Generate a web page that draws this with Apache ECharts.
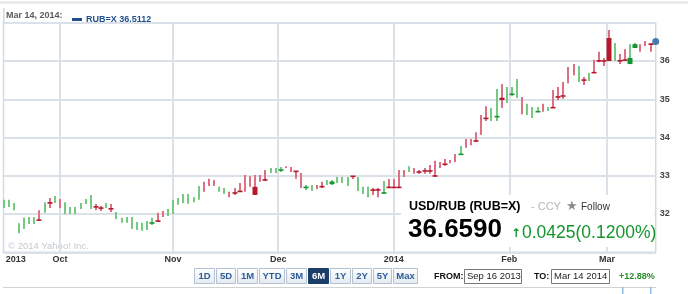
<!DOCTYPE html>
<html>
<head>
<meta charset="utf-8">
<script src="https://cdn.jsdelivr.net/npm/echarts@6/dist/echarts.min.js"></script>
<style>
  html, body { margin: 0; padding: 0; background: #fff; }
  #chart { width: 688px; height: 294px; }
</style>
</head>
<body>
<div id="chart"></div>
<script>
// RUB=X daily candles, one slot per trading day from Sep 16 2013 (slot 0)
const opens = [
  32.16, 32.18, 32.10, 31.50, 31.61, 31.74, 31.74, 31.845, 32.03, 32.295,
  32.29, 32.39, 32.00, 32.00, 32.00, 32.13, 32.26, 32.13, 32.19, 32.16,
  32.16, 32.14, 31.87, 31.77, 31.77, 31.61, 31.58, 31.56, 31.58, 31.76,
  31.82, 32.08, 31.95, 32.00, 32.24, 32.29, 32.27, 32.31, 32.37, 32.84,
  32.92, 32.89, 32.58, 32.52, 32.58, 32.555, 32.595, 33.02, 32.99, 32.71,
  33.02, 32.895, 33.07, 33.07, 33.145, 33.25, 33.23, 33.12, 33.07, 32.69,
  32.60, 32.76, 32.72, 32.76, 32.78, 32.81, 32.81, 32.73, 32.99, 32.60,
  32.52, 32.44, 32.63, 32.635, 32.545, 32.70, 32.70, 32.70, 33.15, 33.10,
  33.20, 33.10, 33.13, 33.13, 33.00, 33.36, 33.305, 33.41, 33.57, 33.555,
  33.96, 33.96, 33.915, 34.59, 34.505, 34.43, 34.54, 35.04, 34.90, 35.125,
  35.03, 35.06, 34.59, 34.51, 34.67, 34.88, 34.69, 34.785, 35.065, 35.09,
  35.84, 35.92, 35.45, 35.505, 35.48, 35.70, 36.01, 36.005, 36.60, 36.00,
  36.01, 36.03, 35.92, 36.34, 36.44, 36.52, 36.445
];
const closes = [
  32.37, 32.37, 32.29, 31.76, 31.90, 31.92, 31.92, 31.835, 32.31, 32.285,
  32.47, 32.16, 32.31, 32.18, 32.18, 32.29, 32.39, 32.50, 32.18, 32.15,
  32.29, 32.13, 32.05, 31.90, 31.92, 31.92, 31.79, 31.77, 31.82, 31.77,
  31.81, 31.92, 32.13, 32.37, 32.42, 32.52, 32.52, 32.44, 32.73, 32.58,
  32.73, 32.73, 32.71, 32.68, 32.44, 32.545, 32.585, 32.58, 32.71, 32.50,
  32.84, 32.885, 33.20, 33.20, 33.155, 33.20, 33.10, 33.11, 32.68, 32.70,
  32.76, 32.65, 32.71, 32.89, 32.85, 32.97, 32.97, 32.97, 32.98, 32.97,
  32.71, 32.71, 32.62, 32.625, 32.555, 32.69, 32.69, 32.69, 32.97, 33.25,
  33.05, 33.09, 33.12, 33.12, 32.99, 33.20, 33.295, 33.33, 33.36, 33.565,
  33.73, 33.80, 33.905, 34.07, 34.495, 34.77, 34.55, 34.98, 35.32, 35.135,
  35.53, 34.61, 34.88, 34.80, 34.68, 34.67, 34.80, 34.775, 35.055, 35.08,
  35.42, 35.63, 35.87, 35.495, 35.69, 35.69, 36.00, 35.995, 36.00, 36.47,
  36.00, 36.02, 36.08, 36.44, 36.24, 36.39, 36.435
];
const lows = [
  32.16, 32.18, 32.10, 31.50, 31.61, 31.74, 31.74, 31.82, 32.03, 32.16,
  32.29, 32.16, 32.00, 32.00, 32.00, 32.13, 32.26, 32.13, 32.10, 32.08,
  32.16, 32.05, 31.87, 31.77, 31.77, 31.61, 31.58, 31.56, 31.58, 31.71,
  31.79, 31.92, 31.95, 32.00, 32.24, 32.29, 32.27, 32.31, 32.37, 32.58,
  32.73, 32.73, 32.58, 32.52, 32.44, 32.50, 32.575, 32.58, 32.71, 32.50,
  32.84, 32.86, 33.07, 33.07, 33.10, 33.20, 33.10, 32.92, 32.68, 32.63,
  32.60, 32.65, 32.68, 32.76, 32.76, 32.81, 32.81, 32.73, 32.915, 32.60,
  32.52, 32.44, 32.50, 32.44, 32.52, 32.68, 32.68, 32.68, 32.97, 33.10,
  33.05, 33.05, 33.05, 33.05, 32.97, 33.20, 33.26, 33.33, 33.36, 33.54,
  33.73, 33.80, 33.88, 34.07, 34.43, 34.43, 34.43, 34.77, 34.90, 35.08,
  35.03, 34.61, 34.59, 34.51, 34.67, 34.67, 34.69, 34.77, 34.98, 35.01,
  35.42, 35.63, 35.45, 35.37, 35.48, 35.69, 35.97, 35.87, 36.00, 36.00,
  35.92, 36.00, 35.92, 36.34, 36.24, 36.39, 36.24
];
const highs = [
  32.37, 32.37, 32.29, 31.76, 31.90, 31.92, 31.92, 32.10, 32.31, 32.42,
  32.47, 32.39, 32.31, 32.18, 32.18, 32.29, 32.39, 32.50, 32.26, 32.21,
  32.29, 32.26, 32.05, 31.90, 31.92, 31.92, 31.79, 31.77, 31.82, 31.90,
  32.03, 32.08, 32.13, 32.37, 32.42, 32.52, 32.52, 32.44, 32.73, 32.84,
  32.92, 32.89, 32.71, 32.68, 32.58, 32.68, 32.81, 33.02, 32.99, 33.02,
  33.02, 33.15, 33.20, 33.20, 33.23, 33.25, 33.23, 33.12, 33.07, 32.76,
  32.76, 32.76, 32.84, 32.89, 32.89, 32.97, 32.97, 32.97, 32.99, 32.97,
  32.71, 32.71, 32.68, 32.68, 32.86, 32.915, 32.915, 33.15, 33.15, 33.25,
  33.20, 33.15, 33.20, 33.28, 33.39, 33.36, 33.44, 33.41, 33.57, 33.78,
  33.96, 33.96, 34.14, 34.59, 34.82, 34.77, 35.27, 35.40, 35.32, 35.32,
  35.53, 35.06, 34.88, 34.80, 34.80, 34.88, 34.80, 35.24, 35.32, 35.45,
  35.84, 35.92, 35.87, 35.58, 35.69, 36.03, 36.24, 36.08, 36.81, 36.47,
  36.18, 36.31, 36.44, 36.47, 36.44, 36.52, 36.47
];
// Mar 14 2014 quote, shown as a dot on the last slot
const lastIndex = 127;
const lastClose = 36.5112;

const xLabels = ['2013', 'Oct', 'Nov', 'Dec', '2014', 'Feb', 'Mar'];
const xLabelSlots = [2.4, 11, 33, 53.5, 76, 98.5, 117.5];
const monthLines = [11, 33, 53.5, 76, 98.5, 117.5];

const ranges = ['1D', '5D', '1M', 'YTD', '3M', '6M', '1Y', '2Y', '5Y', 'Max'];
const activeRange = '6M';

const FONT = 'Liberation Sans, Arial, sans-serif';
const RED = '#de7083', RED_DARK = '#b3182c';
const GREEN = '#74ca81', GREEN_DARK = '#13952f';
const GRID = '#dbe1e8';

const candles = opens.map((o, i) => [i, o, closes[i], lows[i], highs[i]]);

function drawCandle(params, api) {
  const i = api.value(0);
  const o = api.value(1), c = api.value(2), lo = api.value(3), hi = api.value(4);
  const up = c >= o;
  const top = api.coord([i, hi]);
  const bot = api.coord([i, lo]);
  const x = Math.round(top[0]);
  const children = [{
    type: 'rect',
    shape: { x: x - 1, y: top[1], width: 2, height: Math.max(bot[1] - top[1], 1) },
    style: { fill: up ? GREEN : RED }
  }];
  // body only shows when the bar has a wick beyond it
  const hasWick = hi - Math.max(o, c) > 0.004 || Math.min(o, c) - lo > 0.004;
  if (hasWick) {
    const yo = api.coord([i, o])[1], yc = api.coord([i, c])[1];
    const h = Math.max(Math.abs(yo - yc), 1.6);
    children.push({
      type: 'rect',
      shape: { x: x - 2.5, y: (yo + yc) / 2 - h / 2, width: 5, height: h },
      style: { fill: up ? GREEN_DARK : RED_DARK }
    });
  }
  return { type: 'group', children };
}

// range buttons along the bottom
const btnWidths = [21, 20, 21, 26, 21, 21, 21, 20, 19, 25];
const buttons = [];
let bx = 194;
ranges.forEach((r, k) => {
  const on = r === activeRange;
  buttons.push({
    type: 'rect', z: 100,
    shape: { x: bx + 0.5, y: 268.5, width: btnWidths[k] - 1, height: 15 },
    style: on ? { fill: '#1d3d69', stroke: '#1d3d69' } : {
      fill: new echarts.graphic.LinearGradient(0, 0, 0, 1, [
        { offset: 0, color: '#ffffff' }, { offset: 1, color: '#e2e9f1' }
      ]),
      stroke: '#b3c2d3', lineWidth: 1
    }
  });
  buttons.push({
    type: 'text', z: 101,
    x: bx + btnWidths[k] / 2, y: 276.5,
    style: {
      text: r, align: 'center', verticalAlign: 'middle',
      font: 'bold 9.5px ' + FONT, fill: on ? '#ffffff' : '#2e5c97'
    }
  });
  bx += btnWidths[k] + 1;
});

const chart = echarts.init(document.getElementById('chart'));
chart.setOption({
  animation: false,
  backgroundColor: '#fff',
  grid: {
    left: 3.5, right: 32.3, top: 22.75, bottom: 41.75,
    show: true, borderColor: '#d3d9e0', borderWidth: 1.5
  },
  legend: {
    data: [{ name: 'RUB=X', icon: 'rect' }],
    left: 67, top: 10,
    itemWidth: 10, itemHeight: 3, itemGap: 4,
    selectedMode: false,
    formatter: (name) => name + ' ' + lastClose.toFixed(4),
    textStyle: { color: '#1f4f8f', fontWeight: 'bold', fontSize: 9, fontFamily: FONT, padding: [0, 0, 0, -1] }
  },
  xAxis: {
    type: 'value', min: 0, max: lastIndex,
    axisLine: { show: false },
    axisTick: { show: false, customValues: monthLines },
    splitLine: { show: true, lineStyle: { color: GRID, width: 2 } },
    axisLabel: {
      customValues: xLabelSlots,
      formatter: (v, idx) => {
        const k = xLabelSlots.indexOf(v);
        return xLabels[k >= 0 ? k : idx];
      },
      margin: 3, color: '#333', fontWeight: 'bold', fontSize: 9, fontFamily: FONT
    }
  },
  yAxis: {
    type: 'value', position: 'right', min: 31, max: 37, interval: 1,
    axisLine: { show: false },
    axisTick: { show: false },
    splitLine: { lineStyle: { color: GRID, width: 2 } },
    axisLabel: {
      showMinLabel: false, showMaxLabel: false,
      margin: 4, color: '#444', fontWeight: 'bold', fontSize: 9, fontFamily: FONT
    }
  },
  series: [
    {
      type: 'custom', name: 'RUB=X',
      itemStyle: { color: '#1f4e8c' },
      data: candles,
      encode: { x: 0, y: [1, 2, 3, 4] },
      renderItem: drawCandle,
      clip: false, z: 3
    },
    {
      type: 'scatter', name: 'last',
      data: [[lastIndex, lastClose]],
      symbolSize: 7,
      itemStyle: { color: '#1f5aa0' },
      clip: false, z: 4
    }
  ],
  graphic: [
    { type: 'rect', shape: { x: 0, y: 1.5, width: 688, height: 2 }, style: { fill: '#e3e3e3' } },
    { type: 'rect', shape: { x: 3, y: 8, width: 1.5, height: 15 }, style: { fill: '#d3d9e0' } },
    {
      type: 'text', x: 6, y: 15.5,
      style: { text: 'Mar 14, 2014:', verticalAlign: 'middle', font: 'bold 9px ' + FONT, fill: '#5a5a5a' }
    },
    {
      type: 'text', x: 8, y: 246,
      style: { text: '\u00a9 2014 Yahoo! Inc.', verticalAlign: 'middle', font: '9.5px ' + FONT, fill: '#c5cad1' }
    },
    // quote panel over the lower right of the plot
    { type: 'rect', z: 100, shape: { x: 401, y: 195, width: 253, height: 52 }, style: { fill: '#ffffff' } },
    {
      type: 'text', z: 101, x: 409, y: 207,
      style: { text: 'USD/RUB (RUB=X)', verticalAlign: 'middle', font: 'bold 12.5px ' + FONT, fill: '#000' }
    },
    {
      type: 'text', z: 101, x: 531, y: 207,
      style: { text: '- CCY', verticalAlign: 'middle', font: '11px ' + FONT, fill: '#b5b5b5' }
    },
    {
      type: 'text', z: 101, x: 566, y: 207,
      style: { text: '\u2605', verticalAlign: 'middle', font: '13px DejaVu Sans', fill: '#8a8a8a' }
    },
    {
      type: 'text', z: 101, x: 581, y: 207.5,
      style: { text: 'Follow', verticalAlign: 'middle', font: '10px ' + FONT, fill: '#333' }
    },
    {
      type: 'text', z: 101, x: 408, y: 230,
      style: { text: '36.6590', verticalAlign: 'middle', font: 'bold 26px ' + FONT, fill: '#000' }
    },
    {
      type: 'text', z: 101, x: 511, y: 234,
      style: { text: '\u2191', verticalAlign: 'middle', font: 'bold 12px DejaVu Sans', fill: '#14952c' }
    },
    {
      type: 'text', z: 101, x: 522, y: 233,
      style: { text: '0.0425(0.1200%)', verticalAlign: 'middle', font: '17.5px ' + FONT, fill: '#14952c' }
    },
    ...buttons,
    {
      type: 'text', x: 434, y: 276.5,
      style: { text: 'FROM:', verticalAlign: 'middle', font: 'bold 9px ' + FONT, fill: '#111' }
    },
    { type: 'rect', shape: { x: 464.5, y: 269.5, width: 57, height: 14 }, style: { fill: '#fff', stroke: '#777', lineWidth: 1 } },
    {
      type: 'text', x: 467, y: 276.5,
      style: { text: 'Sep 16 2013', verticalAlign: 'middle', font: '9.5px ' + FONT, fill: '#222' }
    },
    {
      type: 'text', x: 534, y: 276.5,
      style: { text: 'TO:', verticalAlign: 'middle', font: 'bold 9px ' + FONT, fill: '#111' }
    },
    { type: 'rect', shape: { x: 551.5, y: 269.5, width: 58, height: 14 }, style: { fill: '#fff', stroke: '#777', lineWidth: 1 } },
    {
      type: 'text', x: 554, y: 276.5,
      style: { text: 'Mar 14 2014', verticalAlign: 'middle', font: '9.5px ' + FONT, fill: '#222' }
    },
    {
      type: 'text', x: 619, y: 276.5,
      style: { text: '+12.88%', verticalAlign: 'middle', font: 'bold 9px ' + FONT, fill: '#2a8f2a' }
    },
    { type: 'rect', shape: { x: 3, y: 287, width: 653, height: 1 }, style: { fill: '#d2d2d2' } },
    { type: 'rect', shape: { x: 622, y: 287, width: 1.5, height: 7 }, style: { fill: '#8fbbe6' } },
    { type: 'rect', shape: { x: 650, y: 287, width: 1.5, height: 7 }, style: { fill: '#8fbbe6' } }
  ]
});

window.addEventListener('resize', () => chart.resize());
</script>
</body>
</html>
